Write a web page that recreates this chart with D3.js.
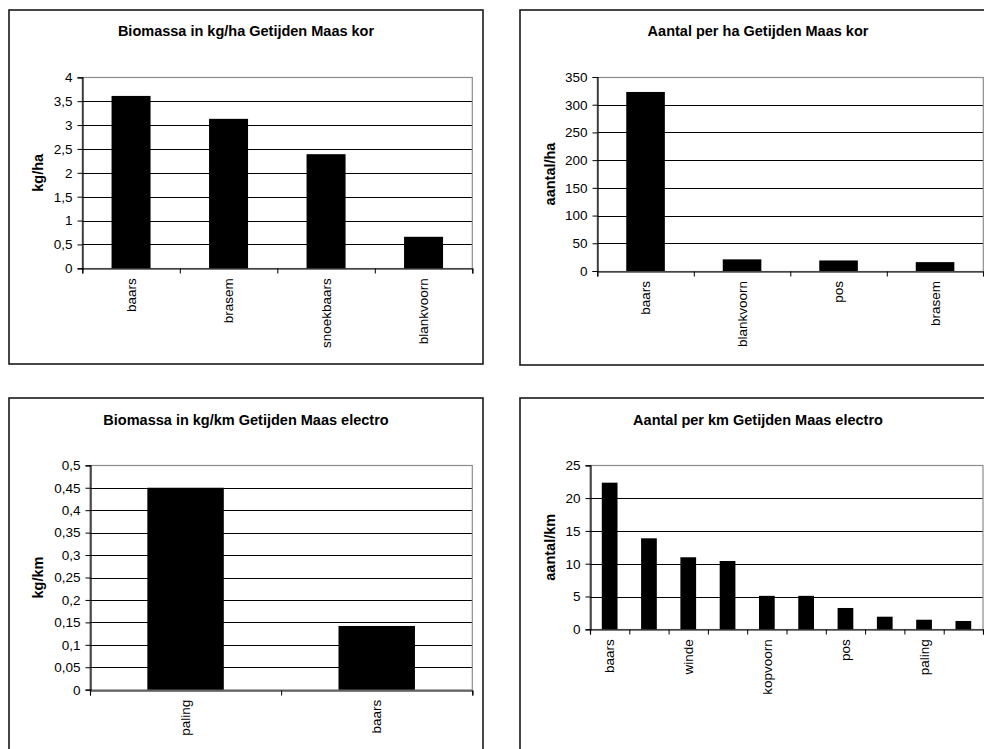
<!DOCTYPE html>
<html>
<head>
<meta charset="utf-8">
<script src="https://cdn.jsdelivr.net/npm/d3@7/dist/d3.min.js"></script>
<style>
  html, body { margin: 0; padding: 0; background: #fff; }
  svg { display: block; }
  text { font-family: "Liberation Sans", Arial, sans-serif; fill: #000; }
</style>
</head>
<body>
<svg id="chart" width="984" height="749"></svg>
<script>
// Biomassa (kg/ha), kor
const catBiomassaKor = ["baars", "brasem", "snoekbaars", "blankvoorn"];
const valBiomassaKor = [3.61, 3.13, 2.39, 0.66];
const ticksBiomassaKor = [0, 0.5, 1, 1.5, 2, 2.5, 3, 3.5, 4];

// Aantal per ha, kor
const catAantalKor = ["baars", "blankvoorn", "pos", "brasem"];
const valAantalKor = [323, 21, 19, 16];
const ticksAantalKor = [0, 50, 100, 150, 200, 250, 300, 350];

// Biomassa (kg/km), electro
const catBiomassaElectro = ["paling", "baars"];
const valBiomassaElectro = [0.45, 0.142];
const ticksBiomassaElectro = [0, 0.05, 0.1, 0.15, 0.2, 0.25, 0.3, 0.35, 0.4, 0.45, 0.5];

// Aantal per km, electro (only every second category label is printed)
const catAantalElectro = ["baars", "", "winde", "", "kopvoorn", "", "pos", "", "paling", ""];
const valAantalElectro = [22.35, 13.87, 10.98, 10.41, 5.1, 5.1, 3.25, 1.92, 1.46, 1.27];
const ticksAantalElectro = [0, 5, 10, 15, 20, 25];

const svg = d3.select("#chart");
const fmt = v => String(+v.toFixed(3)).replace(".", ",");

function panel(o) {
  const g = svg.append("g");

  // chart area frame
  g.append("rect")
    .attr("x", o.frame[0]).attr("y", o.frame[1])
    .attr("width", o.frame[2] - o.frame[0]).attr("height", o.frame[3] - o.frame[1])
    .attr("fill", "#fff").attr("stroke", "#1a1a1a").attr("stroke-width", 1.6);

  const [px0, py0, px1, py1] = o.plot;
  const yMax = o.ticks[o.ticks.length - 1];
  const y = d3.scaleLinear().domain([0, yMax]).range([py1, py0]);
  const x = d3.scaleBand().domain(d3.range(o.cats.length)).range([px0, px1])
    .paddingInner(0.6).paddingOuter(0.3);
  const xb = d3.scaleLinear().domain([0, o.cats.length]).range([px0, px1]);

  // gridlines
  g.append("g").selectAll("line")
    .data(o.ticks.filter(t => t > 0 && t < yMax))
    .join("line")
    .attr("x1", px0).attr("x2", px1)
    .attr("y1", d => Math.round(y(d)) + 0.5).attr("y2", d => Math.round(y(d)) + 0.5)
    .attr("stroke", "#000").attr("stroke-width", 1);

  // plot area border
  g.append("rect")
    .attr("x", px0).attr("y", Math.round(py0) + 0.5)
    .attr("width", px1 - px0).attr("height", py1 - py0)
    .attr("fill", "none").attr("stroke", "#8c8c8c").attr("stroke-width", 1.2);

  // bars
  g.append("g").selectAll("rect")
    .data(o.vals)
    .join("rect")
    .attr("x", (d, i) => x(i))
    .attr("width", x.bandwidth())
    .attr("y", d => y(d))
    .attr("height", d => y(0) - y(d))
    .attr("fill", "#000");

  // y axis
  const ya = g.append("g")
    .attr("transform", `translate(${Math.round(px0) + 0.5},0)`)
    .call(d3.axisLeft(y).tickValues(o.ticks).tickFormat(fmt).tickSize(5).tickPadding(5));
  ya.select(".domain").attr("stroke", "#000").attr("stroke-width", 1.2);
  ya.selectAll(".tick line").attr("stroke", "#000");
  ya.selectAll("text").style("font-size", "13.5px").attr("fill", "#000")
    .style("font-family", '"Liberation Sans", Arial, sans-serif');

  // x axis with ticks at category boundaries
  const xa = g.append("g")
    .attr("transform", `translate(0,${Math.round(py1) + 0.5})`)
    .call(d3.axisBottom(xb).tickValues(d3.range(o.cats.length + 1)).tickFormat("").tickSize(5));
  xa.select(".domain").attr("stroke", "#000").attr("stroke-width", 1.2);
  xa.selectAll(".tick line").attr("stroke", "#000");

  // rotated category labels
  g.append("g").selectAll("text")
    .data(o.cats)
    .join("text")
    .attr("transform", (d, i) => `translate(${x(i) + x.bandwidth() / 2},${py1 + 10}) rotate(-90)`)
    .attr("text-anchor", "end")
    .attr("dy", "0.35em")
    .style("font-size", "13.5px")
    .text(d => d);

  // title
  g.append("text")
    .attr("x", o.titleX).attr("y", o.titleY)
    .attr("text-anchor", "middle")
    .style("font-size", "14.5px").style("font-weight", "bold")
    .text(o.title);

  // y axis title
  g.append("text")
    .attr("transform", `translate(${o.yTitleX},${(py0 + py1) / 2}) rotate(-90)`)
    .attr("text-anchor", "middle")
    .attr("dy", "0.35em")
    .style("font-size", "14.5px").style("font-weight", "bold")
    .text(o.yTitle);
}

panel({
  frame: [9, 10, 483, 364],
  plot: [82.3, 77.3, 472.3, 268.3],
  cats: catBiomassaKor, vals: valBiomassaKor, ticks: ticksBiomassaKor,
  title: "Biomassa in kg/ha Getijden Maas kor", titleX: 246, titleY: 36,
  yTitle: "kg/ha", yTitleX: 38
});

panel({
  frame: [520, 10, 996, 365],
  plot: [597.3, 77, 983.3, 271],
  cats: catAantalKor, vals: valAantalKor, ticks: ticksAantalKor,
  title: "Aantal per ha Getijden Maas kor", titleX: 758, titleY: 36,
  yTitle: "aantal/ha", yTitleX: 550
});

panel({
  frame: [9, 398, 483, 770],
  plot: [90, 465.3, 472.3, 689.7],
  cats: catBiomassaElectro, vals: valBiomassaElectro, ticks: ticksBiomassaElectro,
  title: "Biomassa in kg/km Getijden Maas electro", titleX: 246, titleY: 425,
  yTitle: "kg/km", yTitleX: 38
});

panel({
  frame: [520, 398, 996, 770],
  plot: [590, 465.3, 983, 629.3],
  cats: catAantalElectro, vals: valAantalElectro, ticks: ticksAantalElectro,
  title: "Aantal per km Getijden Maas electro", titleX: 758, titleY: 425,
  yTitle: "aantal/km", yTitleX: 550
});
</script>
</body>
</html>
